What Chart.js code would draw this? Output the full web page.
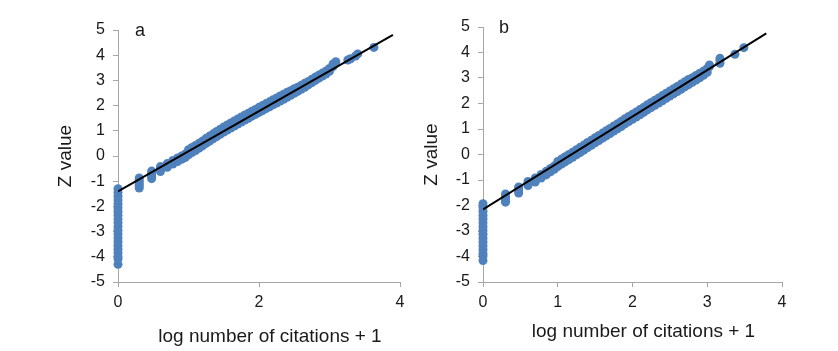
<!DOCTYPE html>
<html>
<head>
<meta charset="utf-8">
<title>Z value vs log citations</title>
<script src="https://cdn.jsdelivr.net/npm/chart.js@4.4.1/dist/chart.umd.min.js"></script>
<style>
  html, body { margin: 0; background: #fff; }
  #wrap { position: relative; width: 838px; height: 351px; }
  #wrap canvas { position: absolute; top: 0; }
</style>
</head>
<body>
<div id="wrap">
  <canvas id="chart-a" width="420" height="351" style="left:0"></canvas>
  <canvas id="chart-b" width="418" height="351" style="left:420px"></canvas>
</div>
<script>
// panel a: [log citations + 1, Z]
const pointsA = [
  [0,-1.30],[0,-1.45],[0,-1.60],[0,-1.75],[0,-1.90],[0,-2.05],[0,-2.20],[0,-2.35],[0,-2.50],[0,-2.65],[0,-2.80],
  [0,-2.95],[0,-3.10],[0,-3.25],[0,-3.40],[0,-3.55],[0,-3.70],[0,-3.85],[0,-4.00],[0,-4.08],[0,-4.30],
  [0.301,-0.87],[0.301,-0.95],[0.301,-1.03],[0.301,-1.11],[0.301,-1.19],[0.301,-1.27],
  [0.477,-0.60],[0.477,-0.70],[0.477,-0.80],[0.477,-0.90],
  [0.602,-0.42],[0.602,-0.52],[0.602,-0.62],
  [0.699,-0.30],[0.699,-0.38],[0.699,-0.45],
  [0.778,-0.18],[0.778,-0.25],[0.778,-0.32],
  [0.845,-0.08],[0.845,-0.15],[0.845,-0.22],
  [0.903,0.00],[0.903,-0.07],[0.903,-0.13],
  [0.954,0.08],[0.954,0.01],[0.954,-0.06],
  [1.00,0.05],[1.00,0.25],[1.05,0.14],[1.05,0.34],[1.10,0.22],[1.10,0.42],[1.15,0.31],[1.15,0.51],
  [1.20,0.40],[1.20,0.60],[1.25,0.50],[1.25,0.70],[1.30,0.59],[1.30,0.79],[1.35,0.68],[1.35,0.88],
  [1.40,0.77],[1.40,0.97],[1.45,0.86],[1.45,1.06],[1.50,0.95],[1.50,1.15],[1.55,1.03],[1.55,1.23],
  [1.60,1.11],[1.60,1.31],[1.65,1.19],[1.65,1.39],[1.70,1.27],[1.70,1.47],[1.75,1.35],[1.75,1.55],
  [1.80,1.43],[1.80,1.63],[1.85,1.50],[1.85,1.70],[1.90,1.58],[1.90,1.78],[1.95,1.65],[1.95,1.85],
  [2.00,1.73],[2.00,1.93],[2.05,1.80],[2.05,2.00],[2.10,1.88],[2.10,2.08],[2.15,1.95],[2.15,2.15],
  [2.20,2.03],[2.20,2.23],[2.25,2.10],[2.25,2.30],[2.30,2.18],[2.30,2.38],[2.35,2.25],[2.35,2.45],
  [2.40,2.33],[2.40,2.53],[2.45,2.41],[2.45,2.59],[2.50,2.49],[2.50,2.67],[2.55,2.57],[2.55,2.73],
  [2.60,2.65],[2.60,2.81],[2.65,2.73],[2.65,2.89],[2.70,2.82],[2.70,2.96],[2.75,2.91],[2.75,3.05],
  [2.80,3.00],[2.80,3.13],[2.85,3.09],[2.85,3.21],[2.90,3.17],[2.90,3.29],[2.95,3.25],[2.95,3.37],
  [3.00,3.36],[3.00,3.47],[3.05,3.55],[3.05,3.65],[3.09,3.74],
  [3.26,3.81],[3.30,3.86],[3.37,3.97],[3.40,4.05],[3.63,4.31]
];
const fitA = [[0,-1.40],[3.90,4.81]];

// panel b
const pointsB = [
  [0,-1.93],[0,-2.08],[0,-2.23],[0,-2.38],[0,-2.53],[0,-2.68],[0,-2.83],[0,-2.98],[0,-3.13],[0,-3.28],
  [0,-3.43],[0,-3.58],[0,-3.73],[0,-3.88],[0,-3.98],[0,-4.16],
  [0.301,-1.55],[0.301,-1.63],[0.301,-1.71],[0.301,-1.79],[0.301,-1.87],
  [0.477,-1.27],[0.477,-1.35],[0.477,-1.43],[0.477,-1.51],
  [0.602,-1.06],[0.602,-1.14],[0.602,-1.22],
  [0.699,-0.92],[0.699,-1.00],[0.699,-1.08],
  [0.778,-0.78],[0.778,-0.85],[0.778,-0.92],
  [0.845,-0.66],[0.845,-0.73],[0.845,-0.80],
  [0.903,-0.55],[0.903,-0.62],[0.903,-0.68],
  [0.954,-0.45],[0.954,-0.52],[0.954,-0.58],
  [1.00,-0.47],[1.00,-0.27],[1.05,-0.38],[1.05,-0.18],[1.10,-0.29],[1.10,-0.09],[1.15,-0.20],[1.15,0.00],
  [1.20,-0.11],[1.20,0.09],[1.25,-0.01],[1.25,0.19],[1.30,0.08],[1.30,0.28],[1.35,0.17],[1.35,0.37],
  [1.40,0.27],[1.40,0.47],[1.45,0.36],[1.45,0.56],[1.50,0.46],[1.50,0.66],[1.55,0.55],[1.55,0.75],
  [1.60,0.64],[1.60,0.84],[1.65,0.73],[1.65,0.93],[1.70,0.82],[1.70,1.02],[1.75,0.92],[1.75,1.12],
  [1.80,1.01],[1.80,1.21],[1.85,1.10],[1.85,1.30],[1.90,1.20],[1.90,1.40],[1.95,1.29],[1.95,1.49],
  [2.00,1.38],[2.00,1.58],[2.05,1.47],[2.05,1.67],[2.10,1.56],[2.10,1.76],[2.15,1.65],[2.15,1.85],
  [2.20,1.75],[2.20,1.95],[2.25,1.84],[2.25,2.04],[2.30,1.93],[2.30,2.13],[2.35,2.02],[2.35,2.22],
  [2.40,2.11],[2.40,2.31],[2.45,2.20],[2.45,2.40],[2.50,2.29],[2.50,2.49],[2.55,2.38],[2.55,2.58],
  [2.60,2.47],[2.60,2.67],[2.65,2.56],[2.65,2.76],[2.70,2.65],[2.70,2.85],[2.75,2.74],[2.75,2.94],
  [2.80,2.83],[2.80,3.01],[2.85,2.92],[2.85,3.10],[2.90,3.01],[2.90,3.19],[2.95,3.11],[2.95,3.27],
  [3.00,3.22],[3.00,3.38],[3.03,3.45],[3.03,3.51],
  [3.17,3.58],[3.17,3.68],[3.17,3.77],[3.37,3.93],[3.49,4.19]
];
const fitB = [[0,-2.15],[3.79,4.75]];

const yTicks = [-5,-4,-3,-2,-1,0,1,2,3,4,5];
const X_TITLE = 'log number of citations + 1';
const Y_TITLE = 'Z value';

(() => {
  'use strict';
  const $ = id => document.getElementById(id);
  const xy = arr => arr.map(([x, y]) => ({ x, y }));
  const AXIS = '#a6a6a6', TEXT = '#1a1a1a', DOT = '#4f81bd';
  const FONT = '"Liberation Sans", Arial, sans-serif';

  Chart.defaults.font.family = FONT;
  Chart.defaults.color = TEXT;

  // panel letter and x caption, placed relative to the plot area
  const captions = {
    id: 'captions',
    afterDraw(chart, args, o) {
      const { ctx, chartArea: ca } = chart;
      ctx.save();
      ctx.fillStyle = TEXT; ctx.textAlign = 'center'; ctx.textBaseline = 'alphabetic';
      ctx.font = `18px ${FONT}`;
      ctx.fillText(o.letter, ca.left + o.letterDx, ca.top + 6);
      ctx.font = `19px ${FONT}`;
      ctx.fillText(X_TITLE, (ca.left + ca.right) / 2 + o.titleDx, o.titleY);
      ctx.restore();
    }
  };

  function panel(canvas, points, fit, cfg) {
    return new Chart(canvas, {
      type: 'scatter',
      data: { datasets: [
        { type: 'line', data: xy(fit), borderColor: '#000', borderWidth: 2, pointRadius: 0, order: 0 },
        { data: xy(points), backgroundColor: DOT, borderWidth: 0, pointRadius: 4.5, pointHoverRadius: 4.5, clip: false, order: 1 }
      ] },
      options: {
        responsive: false, animation: false, devicePixelRatio: 1,
        layout: { padding: cfg.padding },
        plugins: { legend: { display: false }, tooltip: { enabled: false }, captions: cfg.captions },
        scales: {
          x: {
            type: 'linear', min: 0, max: 4,
            afterFit: s => { s.height = cfg.xHeight; },
            border: { color: AXIS, width: 1 },
            grid: { drawOnChartArea: false, color: AXIS, tickLength: 5 },
            ticks: { stepSize: cfg.xStep, padding: 6, font: { size: 16 }, color: TEXT, maxRotation: 0 }
          },
          y: {
            type: 'linear', min: yTicks[0], max: yTicks.at(-1),
            afterFit: s => { s.width = cfg.yWidth; },
            afterBuildTicks: s => { s.ticks = yTicks.map(v => ({ value: v })); },
            border: { color: AXIS, width: 1 },
            grid: { drawOnChartArea: false, color: AXIS, tickLength: 5 },
            ticks: { padding: 8, font: { size: 16 }, color: TEXT },
            title: { display: true, text: Y_TITLE, font: { size: 19 }, color: TEXT, padding: { top: cfg.yTitlePad, bottom: 0 } }
          }
        }
      },
      plugins: [captions]
    });
  }

  panel($('chart-a'), pointsA, fitA, {
    padding: { left: 50, right: 20, top: 30, bottom: 4 }, xHeight: 65, yWidth: 68, xStep: 2, yTitlePad: 4,
    captions: { letter: 'a', letterDx: 22, titleDx: 11, titleY: 342 }
  });
  panel($('chart-b'), pointsB, fitB, {
    padding: { left: 0, right: 56, top: 27, bottom: 9 }, xHeight: 60, yWidth: 63, xStep: 1, yTitlePad: 0,
    captions: { letter: 'b', letterDx: 21, titleDx: 11, titleY: 337 }
  });
})();
</script>
</body>
</html>
